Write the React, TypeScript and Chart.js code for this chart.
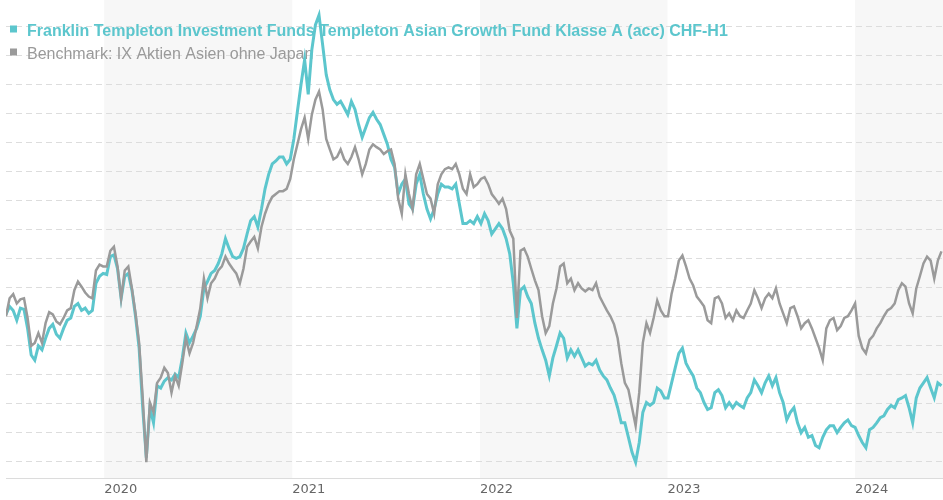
import React, { useEffect, useRef } from 'react';
import { Chart, registerables } from 'chart.js';

Chart.register(...registerables);

// ---- Data ----
const fundLabel = 'Franklin Templeton Investment Funds Templeton Asian Growth Fund Klasse A (acc) CHF-H1';
const benchmarkLabel = 'Benchmark: IX Aktien Asien ohne Japan';

// weekly observations starting Monday 2019-06-24
const startDate = Date.UTC(2019, 5, 24);
const endDate = Date.UTC(2024, 5, 20);
const stepDays = 7;

const yearTicks = [2020, 2021, 2022, 2023, 2024];
const shadedYears = [2020, 2022, 2024];

const fundValues = [
  100.3, 101.7, 101.0, 99.3, 101.4, 101.2, 97.9, 93.3, 92.4, 94.9,
  94.2, 96.2, 97.9, 98.6, 96.9, 96.2, 97.9, 99.3, 99.7, 101.7,
  102.2, 101.0, 101.4, 100.5, 101.0, 105.7, 106.9, 107.4, 107.2, 110.3,
  110.6, 108.2, 103.1, 106.9, 107.4, 104.5, 100.0, 94.5, 84.2, 75.6,
  84.2, 81.6, 88.0, 87.6, 88.8, 89.4, 89.0, 90.0, 89.4, 92.8,
  97.1, 95.4, 96.6, 97.9, 100.0, 104.8, 106.0, 107.4, 107.9, 109.1,
  110.8, 113.4, 111.7, 110.3, 110.0, 110.3, 111.7, 114.2, 116.5, 117.2,
  115.4, 118.5, 122.0, 124.5, 126.3, 126.8, 127.5, 127.5, 126.3, 127.1,
  130.6, 135.4, 140.0, 144.3, 138.3, 146.0, 150.3, 152.0, 146.9, 141.7,
  139.1, 137.4, 136.6, 137.1, 136.0, 134.8, 137.1, 135.7, 133.1, 130.9,
  132.6, 134.3, 135.2, 134.0, 133.1, 131.4, 129.7, 127.1, 125.7, 121.1,
  122.8, 123.7, 119.4, 118.5, 122.8, 124.5, 121.1, 118.5, 116.8, 118.5,
  121.1, 122.8, 122.3, 122.3, 122.0, 122.8, 119.4, 116.0, 116.0, 116.5,
  116.0, 117.2, 116.0, 117.7, 116.5, 114.2, 115.1, 116.0, 115.1, 113.4,
  110.8, 105.7, 97.9, 104.5, 105.1, 103.4, 102.2, 98.8, 96.2, 94.2,
  92.4, 89.7, 92.8, 94.9, 97.1, 96.2, 92.8, 94.2, 93.1, 94.2,
  92.8, 91.4, 91.9, 91.6, 92.4, 90.7, 89.7, 89.0, 87.6, 86.4,
  84.2, 81.6, 81.6, 79.1, 76.5, 74.8, 78.2, 83.4, 85.1, 84.6,
  85.1, 87.6, 87.1, 85.9, 85.9, 88.5, 91.1, 93.6, 94.5, 91.9,
  90.7, 89.7, 87.6, 86.8, 85.1, 83.9, 84.2, 86.8, 87.3, 86.3,
  84.2, 85.1, 84.2, 85.1, 84.6, 84.2, 85.9, 86.8, 89.0, 88.0,
  86.8, 88.5, 89.7, 88.0, 89.4, 86.8, 85.1, 82.1, 83.4, 84.2,
  81.6, 79.9, 80.8, 79.1, 79.4, 77.7, 77.3, 79.1, 80.4, 81.1,
  81.1, 79.9, 80.8, 81.6, 82.1, 81.1, 80.8, 79.4, 78.2, 77.3,
  80.4, 80.8, 81.6, 82.5, 82.8, 83.9, 84.6, 84.2, 85.6, 85.9,
  86.3, 84.2, 81.6, 85.9, 87.6, 88.5, 89.4, 87.6, 85.9, 88.5,
  88.0,
];

const benchmarkValues = [
  100.0, 103.1, 103.8, 102.2, 102.9, 103.1, 99.7, 94.9, 95.4, 97.1,
  95.4, 98.8, 100.7, 100.3, 99.1, 98.6, 99.7, 101.0, 101.4, 104.5,
  106.0, 105.1, 104.1, 103.4, 103.1, 107.9, 108.9, 108.6, 108.6, 111.3,
  112.0, 108.6, 103.1, 107.9, 108.6, 104.8, 100.5, 95.4, 85.9, 74.8,
  85.1, 83.4, 88.5, 89.4, 91.1, 90.2, 86.8, 89.7, 88.0, 91.9,
  96.2, 93.6, 95.4, 98.3, 101.4, 106.5, 103.1, 105.7, 106.5, 107.9,
  108.6, 110.3, 109.1, 108.2, 107.4, 105.7, 108.2, 112.0, 112.9, 113.7,
  111.7, 115.4, 117.7, 119.4, 120.6, 121.1, 121.6, 121.6, 122.0, 123.7,
  127.1, 129.7, 132.3, 134.3, 130.6, 134.8, 137.4, 138.8, 135.7, 130.6,
  128.8, 127.1, 127.5, 128.8, 127.1, 126.3, 127.5, 129.2, 127.1, 124.5,
  126.3, 128.8, 129.7, 129.2, 128.8, 128.0, 128.5, 128.8, 126.3, 120.3,
  117.7, 124.5, 121.1, 118.5, 124.5, 126.3, 123.7, 121.1, 120.3, 117.7,
  122.8, 124.5, 125.4, 125.7, 125.4, 126.3, 124.5, 122.0, 121.1, 124.5,
  122.3, 122.8, 123.7, 124.0, 122.8, 121.1, 120.3, 119.4, 120.3, 118.5,
  114.8, 113.4, 99.7, 111.3, 111.7, 110.3, 108.2, 106.2, 104.5, 100.0,
  97.1, 98.3, 102.2, 104.8, 108.6, 109.1, 105.7, 106.5, 104.5, 105.7,
  104.8, 104.3, 104.8, 104.5, 105.7, 103.4, 102.2, 101.0, 100.0, 98.6,
  96.2, 91.9, 88.5, 87.3, 84.2, 81.1, 86.8, 95.4, 98.8, 97.1,
  99.7, 102.7, 101.0, 100.0, 100.0, 103.9, 106.5, 109.6, 110.5, 108.6,
  106.5, 105.3, 103.4, 102.6, 101.7, 99.3, 98.8, 103.1, 103.4, 102.2,
  99.7, 100.5, 99.3, 101.0, 100.0, 99.7, 101.0, 102.2, 104.5, 103.1,
  101.4, 103.1, 103.9, 103.1, 104.8, 102.2, 100.5, 98.8, 101.4, 101.7,
  100.0, 97.9, 98.8, 99.3, 97.9, 96.2, 94.5, 92.4, 97.9, 99.3,
  99.7, 97.6, 98.3, 99.7, 100.0, 101.0, 102.2, 96.6, 94.5, 93.6,
  95.9, 96.6, 97.9, 98.8, 100.0, 101.0, 101.4, 102.2, 104.5, 105.7,
  105.1, 102.2, 100.5, 104.8, 106.9, 109.1, 110.3, 109.6, 106.5, 109.6,
  111.2,
];

const yMin = 72;
const yMax = 154.6;
const yStep = 5;

// ---- Styles ----
const FUND_COLOR = '#5cc6cd';
const BENCH_COLOR = '#9a9a9a';
const DAY_MS = 86400000;

const toPoints = (vals: number[]) =>
  vals.map((v, i) => ({ x: startDate + i * stepDays * DAY_MS, y: v }));

const bandsPlugin = {
  id: 'yearBands',
  beforeDraw(chart: any) {
    const { ctx, chartArea, scales } = chart;
    const xs = scales.x;
    ctx.save();
    ctx.fillStyle = '#f7f7f7';
    shadedYears.forEach((yr) => {
      const x0 = Math.max(chartArea.left, xs.getPixelForValue(Date.UTC(yr, 0, 1)));
      const x1 = Math.min(chartArea.right, xs.getPixelForValue(Date.UTC(yr + 1, 0, 1)));
      if (x1 > x0) ctx.fillRect(x0, chartArea.top, x1 - x0, chartArea.bottom - chartArea.top);
    });
    ctx.restore();
  },
};

const legendPlugin = {
  id: 'overlayLegend',
  beforeDatasetsDraw(chart: any) {
    const ctx = chart.ctx;
    ctx.save();
    chart.data.datasets.forEach((ds: any, i: number) => {
      const baseline = 35.5 + i * 23;
      ctx.fillStyle = ds.borderColor;
      ctx.fillRect(10, baseline - 10, 7, 7);
      ctx.font = (i === 0 ? 'bold ' : '') + '16px "Liberation Sans", Arial, sans-serif';
      ctx.textBaseline = 'alphabetic';
      ctx.textAlign = 'left';
      ctx.fillText(ds.label, 27, baseline);
    });
    ctx.restore();
  },
};

export default function App() {
  const ref = useRef<HTMLCanvasElement>(null);

  useEffect(() => {
    if (!ref.current) return;
    const chart = new Chart(ref.current, {
      type: 'line',
      data: {
        datasets: [
          {
            label: fundLabel,
            data: toPoints(fundValues),
            borderColor: FUND_COLOR,
            backgroundColor: FUND_COLOR,
            borderWidth: 3,
            pointRadius: 0,
            tension: 0,
            order: 1,
          },
          {
            label: benchmarkLabel,
            data: toPoints(benchmarkValues),
            borderColor: BENCH_COLOR,
            backgroundColor: BENCH_COLOR,
            borderWidth: 2.5,
            pointRadius: 0,
            tension: 0,
            order: 0,
          },
        ],
      },
      options: {
        animation: false,
        responsive: true,
        maintainAspectRatio: false,
        layout: { padding: { left: 6, right: 0, top: 0, bottom: 0 } },
        plugins: { legend: { display: false }, tooltip: { enabled: false } },
        scales: {
          x: {
            type: 'linear',
            min: startDate,
            max: endDate,
            grid: { display: false, drawTicks: false },
            border: { display: true, color: '#dcdcdc', width: 1 },
            afterBuildTicks: (s: any) => {
              s.ticks = yearTicks.map((yr) => ({ value: Date.UTC(yr, 0, 1) }));
            },
            ticks: {
              autoSkip: false,
              maxRotation: 0,
              align: 'start',
              padding: 3,
              color: '#666',
              font: { family: '"DejaVu Sans", Verdana, sans-serif', size: 13 },
              callback: (v: any) => String(new Date(Number(v)).getUTCFullYear()),
            },
          },
          y: {
            type: 'linear',
            min: yMin,
            max: yMax,
            ticks: { display: false, stepSize: yStep, includeBounds: false },
            grid: { color: '#dddddd', drawTicks: false, lineWidth: 1 },
            border: { display: false, dash: [6, 4] },
          },
        },
      } as any,
      plugins: [bandsPlugin, legendPlugin],
    });
    return () => chart.destroy();
  }, []);

  return (
    <div style={{ position: 'absolute', left: 0, top: 0, width: 943, height: 500, background: '#fff' }}>
      <canvas ref={ref} />
    </div>
  );
}
